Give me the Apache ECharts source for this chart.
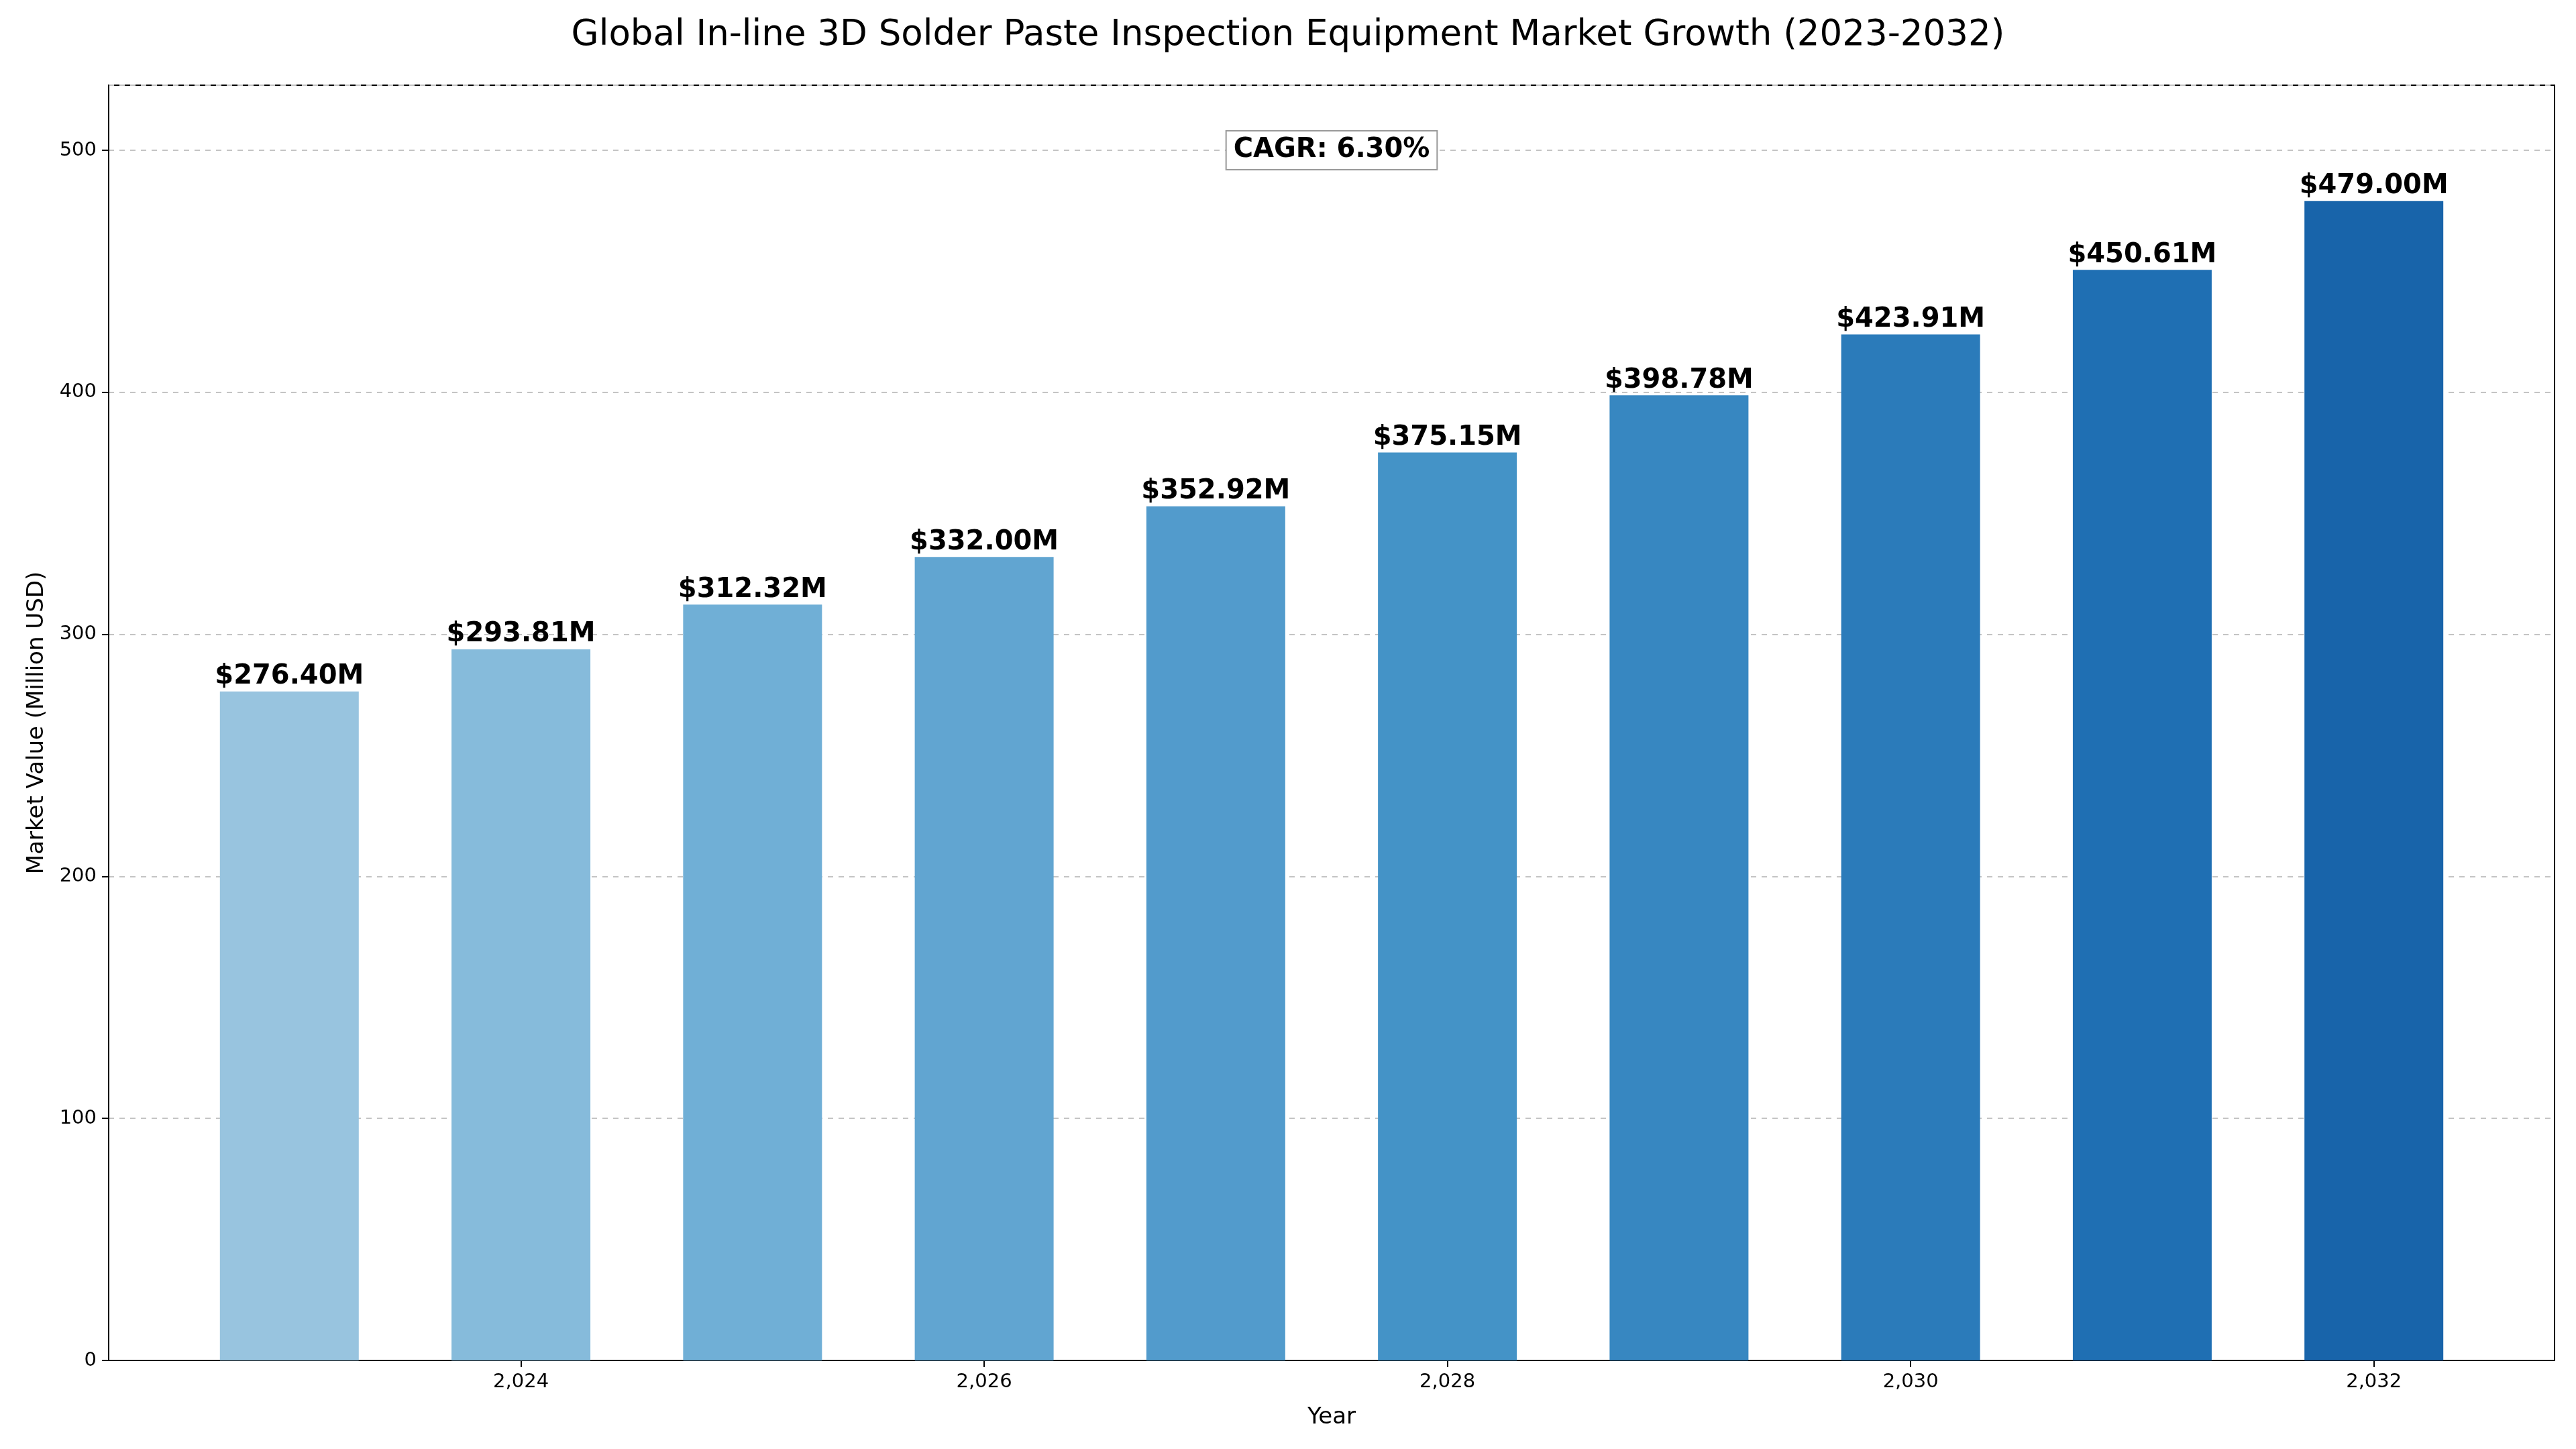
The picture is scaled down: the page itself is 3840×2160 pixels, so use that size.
<!DOCTYPE html>
<html>
<head>
<meta charset="utf-8">
<script src="https://cdn.jsdelivr.net/npm/echarts@6/dist/echarts.min.js"></script>
<style>
  html, body { margin: 0; height: 100%; background: #fff; }
  #chart { width: 3840px; height: 2160px; }
</style>
</head>
<body>
<div id="chart"></div>
<script>
const years = [2023, 2024, 2025, 2026, 2027, 2028, 2029, 2030, 2031, 2032]
const values = [276.40, 293.81, 312.32, 332.00, 352.92, 375.15, 398.78, 423.91, 450.61, 479.00]
const colors = ['#98c4df', '#86bbdb', '#70afd6', '#61a5d1', '#529bcc', '#4493c7', '#3787c1', '#2b7bba', '#1f6fb3', '#1864aa']
const tickYears = [2024, 2026, 2028, 2030, 2032]
const cagrText = 'CAGR: 6.30%'

const chart = echarts.init(document.getElementById('chart'))
const font = 'DejaVu Sans'

chart.setOption({
  animation: false,
  textStyle: { fontFamily: font },
  title: {
    text: 'Global In-line 3D Solder Paste Inspection Equipment Market Growth (2023-2032)',
    left: 'center', top: 22,
    textStyle: { fontSize: 53, fontWeight: 'normal', color: '#000', fontFamily: font }
  },
  grid: { left: 162, right: 32, top: 127, bottom: 132, show: true, borderColor: '#000', borderWidth: 2 },
  xAxis: {
    type: 'value', min: 2022.22, max: 2032.78,
    name: 'Year', nameLocation: 'middle', nameGap: 68,
    nameTextStyle: { fontSize: 34, color: '#000' },
    axisLine: { lineStyle: { color: '#000', width: 2 } },
    axisTick: { show: true, length: 10, lineStyle: { color: '#000', width: 2 }, customValues: tickYears },
    axisLabel: { fontSize: 29, color: '#000', margin: 18, customValues: tickYears },
    splitLine: { show: false }
  },
  yAxis: {
    type: 'value', min: 0, max: 526.9, interval: 100,
    name: 'Market Value (Million USD)', nameLocation: 'middle', nameGap: 90,
    nameTextStyle: { fontSize: 34, color: '#000' },
    axisLine: { show: true, lineStyle: { color: '#000', width: 2 } },
    axisTick: { show: true, length: 10, lineStyle: { color: '#000', width: 2 } },
    axisLabel: { fontSize: 29, color: '#000', margin: 18, showMaxLabel: false },
    splitLine: { show: true, lineStyle: { type: [8, 8], color: '#c4c4c4', width: 2 } }
  },
  series: [{
    type: 'bar',
    barWidth: 207,
    data: years.map((y, i) => ({ value: [y, values[i]], itemStyle: { color: colors[i] } })),
    label: {
      show: true, position: 'top', distance: 2,
      fontSize: 40, fontWeight: 'bold', color: '#000',
      formatter: p => '$' + p.value[1].toFixed(2) + 'M'
    },
    markPoint: {
      symbol: 'rect', symbolSize: 1, itemStyle: { color: 'transparent' },
      data: [{ coord: [2027.5, 500] }],
      label: {
        show: true, position: 'inside', formatter: cagrText,
        fontSize: 40, fontWeight: 'bold', color: '#000',
        backgroundColor: '#fff', borderColor: '#999', borderWidth: 2, padding: [8, 10]
      }
    }
  }]
})
</script>
</body>
</html>
